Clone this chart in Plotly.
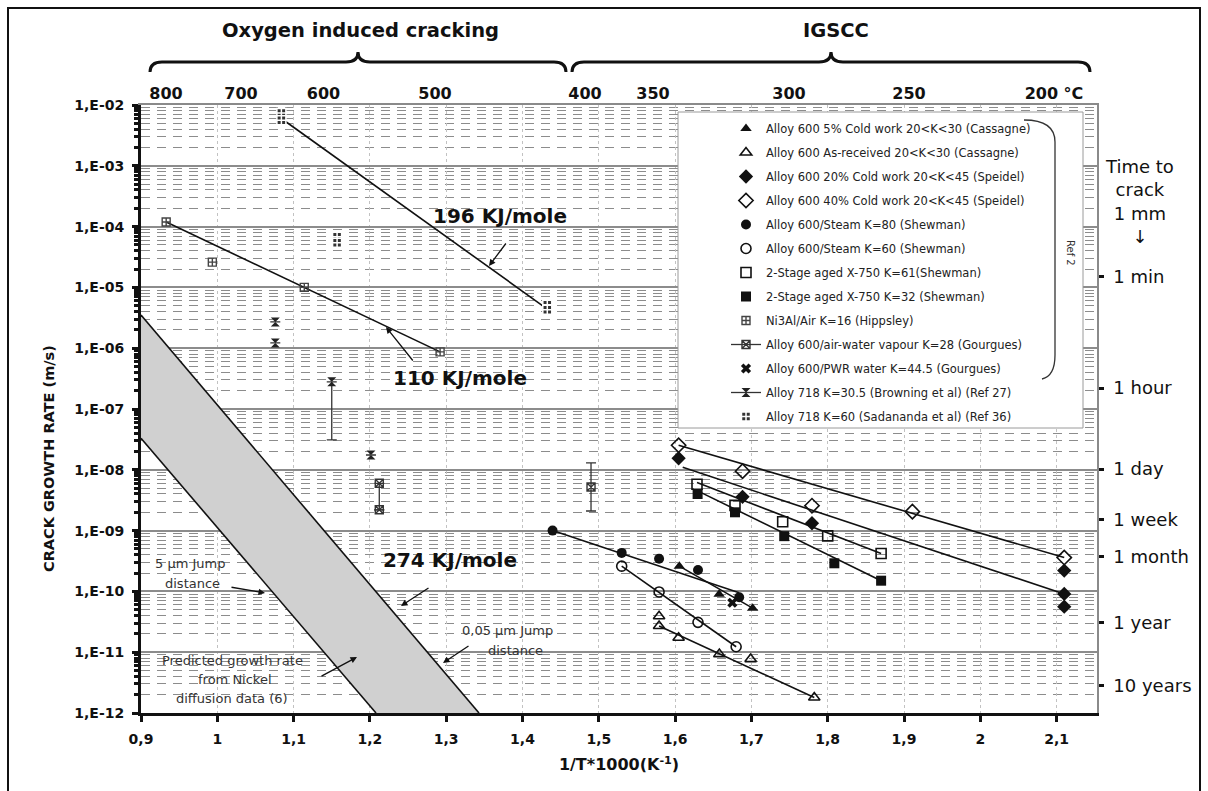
import plotly.graph_objects as go

# ---------------- data ----------------
# Alloy 600 5% cold work 20<K<30 (Cassagne)
cw5_x = [1.6055, 1.6577, 1.7016]
cw5_y = [2.6e-10, 9.0e-11, 5.3e-11]
# Alloy 600 as-received 20<K<30 (Cassagne)
asrec_x = [1.579, 1.579, 1.6046, 1.658, 1.699, 1.7824]
asrec_y = [3.9e-11, 2.7e-11, 1.73e-11, 9.3e-12, 7.7e-12, 1.8e-12]
# Alloy 600 20% cold work 20<K<45 (Speidel)
cw20_x = [1.6046, 1.6884, 1.7794, 2.110, 2.110, 2.110]
cw20_y = [1.55e-8, 3.6e-9, 1.32e-9, 2.2e-10, 9.1e-11, 5.6e-11]
# Alloy 600 40% cold work 20<K<45 (Speidel)
cw40_x = [1.6046, 1.6884, 1.7794, 1.911, 2.110]
cw40_y = [2.53e-8, 9.5e-9, 2.57e-9, 2.05e-9, 3.6e-10]
# Alloy 600/Steam K=80 (Shewman)
steam80_x = [1.4394, 1.530, 1.579, 1.630, 1.684]
steam80_y = [1.0e-9, 4.3e-10, 3.45e-10, 2.25e-10, 8.0e-11]
# Alloy 600/Steam K=60 (Shewman)
steam60_x = [1.530, 1.579, 1.630, 1.680]
steam60_y = [2.6e-10, 9.8e-11, 3.1e-11, 1.23e-11]
# 2-stage aged X-750 K=61 (Shewman)
x750_61_x = [1.6287, 1.6785, 1.741, 1.800, 1.870]
x750_61_y = [5.8e-9, 2.6e-9, 1.4e-9, 8.2e-10, 4.2e-10]
# 2-stage aged X-750 K=32 (Shewman)
x750_32_x = [1.6295, 1.6785, 1.743, 1.8087, 1.870]
x750_32_y = [4.0e-9, 2.0e-9, 8.1e-10, 2.9e-10, 1.5e-10]
# Ni3Al/Air K=16 (Hippsley)
ni3al_x = [0.933, 0.9935, 1.114, 1.292]
ni3al_y = [1.19e-4, 2.6e-5, 1.0e-5, 8.7e-7]
# Alloy 600/air-water vapour K=28 (Gourgues)
airw_x = [1.2123, 1.2123, 1.4898]
airw_y = [6.0e-9, 2.2e-9, 5.2e-9]
airw_err_plus = [0, 0, 7.8e-9]
airw_err_minus = [3.8e-9, 0, 3.1e-9]
# Alloy 600/PWR water K=44.5 (Gourgues)
pwr_x = [1.675]
pwr_y = [6.5e-11]
# Alloy 718 K=30.5 (Browning et al)
a718b_x = [1.076, 1.076, 1.150, 1.2014]
a718b_y = [2.7e-6, 1.22e-6, 2.8e-7, 1.75e-8]
a718b_err_minus = [0, 0, 2.49e-7, 0]
# Alloy 718 K=60 (Sadananda et al)
a718s_x = [1.084, 1.084, 1.157, 1.157, 1.4325, 1.4325]
a718s_y = [7.4e-3, 5.6e-3, 6.8e-5, 5.4e-5, 5.2e-6, 4.3e-6]

# Fitted trend lines (end points)
fit_196_x, fit_196_y = [1.084, 1.4325], [6.0e-3, 4.4e-6]
fit_110_x, fit_110_y = [0.933, 1.292], [1.19e-4, 8.7e-7]
fit_cw40_x, fit_cw40_y = [1.6046, 2.110], [2.53e-8, 3.6e-10]
fit_cw20_x, fit_cw20_y = [1.610, 2.110], [1.1e-8, 9.1e-11]
fit_x61_x, fit_x61_y = [1.6287, 1.870], [6.2e-9, 4.2e-10]
fit_x32_x, fit_x32_y = [1.6295, 1.870], [4.5e-9, 1.5e-10]
fit_s80_x, fit_s80_y = [1.4394, 1.684], [1.0e-9, 9.5e-11]
fit_s60_x, fit_s60_y = [1.530, 1.680], [2.6e-10, 1.23e-11]
fit_cw5_x, fit_cw5_y = [1.6055, 1.7016], [2.6e-10, 5.3e-11]
fit_asr_x, fit_asr_y = [1.579, 1.7824], [2.7e-11, 1.8e-12]

# Nickel diffusion band (274 kJ/mole): 0.05 um and 5 um jump distance
band_hi_x, band_hi_y = [0.9, 1.343], [3.5e-6, 1e-12]
band_lo_x, band_lo_y = [0.9, 1.208], [3.3e-8, 1e-12]

# Axes
y_decades = [1e-2, 1e-3, 1e-4, 1e-5, 1e-6, 1e-7, 1e-8, 1e-9, 1e-10, 1e-11, 1e-12]
y_labels = ["1,E-02", "1,E-03", "1,E-04", "1,E-05", "1,E-06", "1,E-07",
            "1,E-08", "1,E-09", "1,E-10", "1,E-11", "1,E-12"]
x_ticks = [0.9, 1.0, 1.1, 1.2, 1.3, 1.4, 1.5, 1.6, 1.7, 1.8, 1.9, 2.0, 2.1]
x_labels = ["0,9", "1", "1,1", "1,2", "1,3", "1,4", "1,5", "1,6", "1,7",
            "1,8", "1,9", "2", "2,1"]
# temperature scale (°C) on top, placed at 1000/T positions
temp_pos = [0.9328, 1.0311, 1.1392, 1.2853, 1.4819, 1.5710, 1.7493, 1.9066, 2.0966]
temp_labels = ["800", "700", "600", "500", "400", "350", "300", "250", "200 °C"]
# time to crack 1 mm, placed at the matching growth rate (m/s)
crack_rates = [1.5e-5, 2.2e-7, 1.03e-8, 1.52e-9, 3.7e-10, 3.1e-11, 2.8e-12]
crack_labels = ["1 min", "1 hour", "1 day", "1 week", "1 month", "1 year", "10 years"]
crack_rate_1s = 1e-3  # unlabelled tick (1 second)

legend_names = [
    "Alloy 600 5% Cold work 20<K<30 (Cassagne)",
    "Alloy 600 As-received 20<K<30 (Cassagne)",
    "Alloy 600 20% Cold work 20<K<45 (Speidel)",
    "Alloy 600 40% Cold work 20<K<45 (Speidel)",
    "Alloy 600/Steam K=80 (Shewman)",
    "Alloy 600/Steam K=60 (Shewman)",
    "2-Stage aged X-750 K=61(Shewman)",
    "2-Stage aged X-750 K=32 (Shewman)",
    "Ni3Al/Air K=16 (Hippsley)",
    "Alloy 600/air-water vapour K=28 (Gourgues)",
    "Alloy 600/PWR water K=44.5 (Gourgues)",
    "Alloy 718 K=30.5 (Browning et al) (Ref 27)",
    "Alloy 718 K=60 (Sadananda et al) (Ref 36)",
]

# ---------------- layout geometry ----------------
W, H = 1208, 791
L, R, T, B = 141, 111, 105, 78
PW, PH = W - L - R, H - T - B
X_PER_PX = 0.1 / 76.3
x_range = [0.9, 0.9 + PW * X_PER_PX]


def px(x):
    return (x - L) / PW


def py(y):
    return (H - B - y) / PH


BLK = "#111111"
FONT_V = "DejaVu Sans"

fig = go.Figure()

# diffusion band
fig.add_trace(go.Scatter(
    x=band_hi_x + band_lo_x[::-1], y=band_hi_y + band_lo_y[::-1],
    fill="toself", fillcolor="#d0d0d0", line=dict(width=0),
    mode="lines", hoverinfo="skip", showlegend=False))
for bx, by in ((band_hi_x, band_hi_y), (band_lo_x, band_lo_y)):
    fig.add_trace(go.Scatter(x=bx, y=by, mode="lines",
                             line=dict(color=BLK, width=1.6), showlegend=False))

# trend lines
for fx, fy in ((fit_196_x, fit_196_y), (fit_110_x, fit_110_y),
               (fit_cw40_x, fit_cw40_y), (fit_cw20_x, fit_cw20_y),
               (fit_x61_x, fit_x61_y), (fit_x32_x, fit_x32_y),
               (fit_s80_x, fit_s80_y), (fit_s60_x, fit_s60_y),
               (fit_cw5_x, fit_cw5_y), (fit_asr_x, fit_asr_y)):
    fig.add_trace(go.Scatter(x=fx, y=fy, mode="lines",
                             line=dict(color=BLK, width=1.6), showlegend=False))

# marker styles per series
styles = [
    dict(symbol="triangle-up", size=10, color=BLK, line=dict(width=0)),
    dict(symbol="triangle-up-open", size=10, color=BLK, line=dict(width=1.6, color=BLK)),
    dict(symbol="diamond", size=11, color=BLK, line=dict(width=0)),
    dict(symbol="diamond-open", size=11, color=BLK, line=dict(width=1.6, color=BLK)),
    dict(symbol="circle", size=10, color=BLK, line=dict(width=0)),
    dict(symbol="circle-open", size=10, color=BLK, line=dict(width=1.6, color=BLK)),
    dict(symbol="square-open", size=10, color=BLK, line=dict(width=1.6, color=BLK)),
    dict(symbol="square", size=10, color=BLK, line=dict(width=0)),
    dict(symbol="square-cross-open", size=8, color="#444", line=dict(width=1.4, color="#444")),
    dict(symbol="square-x-open", size=8, color="#333", line=dict(width=1.4, color="#333")),
    dict(symbol="x", size=9, color=BLK, line=dict(width=0)),
    dict(symbol="hourglass", size=9, color="#222", line=dict(width=0)),
    dict(symbol="square-cross", size=9, color="#333", line=dict(width=1.5, color="white")),
]

series = [
    (cw5_x, cw5_y, None, None), (asrec_x, asrec_y, None, None),
    (cw20_x, cw20_y, None, None), (cw40_x, cw40_y, None, None),
    (steam80_x, steam80_y, None, None), (steam60_x, steam60_y, None, None),
    (x750_61_x, x750_61_y, None, None), (x750_32_x, x750_32_y, None, None),
    (ni3al_x, ni3al_y, None, None),
    (airw_x, airw_y, airw_err_plus, airw_err_minus),
    (pwr_x, pwr_y, None, None),
    (a718b_x, a718b_y, [0] * len(a718b_x), a718b_err_minus),
    (a718s_x, a718s_y, None, None),
]

for i, (sx, sy, ep, em) in enumerate(series):
    err = None
    if ep is not None:
        err = dict(type="data", symmetric=False, array=ep, arrayminus=em,
                   color="#333", thickness=1.3, width=5)
    fig.add_trace(go.Scatter(x=sx, y=sy, mode="markers", marker=styles[i],
                             error_y=err, showlegend=False))

# legend-only entries
for i, name in enumerate(legend_names):
    with_line = i in (9, 11)
    fig.add_trace(go.Scatter(
        x=[None], y=[None], name=name,
        mode="lines+markers" if with_line else "markers",
        marker=styles[i], line=dict(color="#333", width=1.3),
        legendgroup=f"g{i}", legendrank=i + 1, showlegend=True))

# invisible traces carrying the secondary axes
fig.add_trace(go.Scatter(x=[1.5], y=[1e-5], xaxis="x2", yaxis="y", mode="markers",
                         marker=dict(opacity=0), showlegend=False, hoverinfo="skip"))
fig.add_trace(go.Scatter(x=[1.5], y=[1e-5], xaxis="x", yaxis="y2", mode="markers",
                         marker=dict(opacity=0), showlegend=False, hoverinfo="skip"))

minor_vals = [k * 10 ** e for e in range(-12, -2) for k in range(2, 10)]

fig.update_layout(
    width=W, height=H,
    margin=dict(l=L, r=R, t=T, b=B, pad=0),
    paper_bgcolor="white", plot_bgcolor="white",
    font=dict(family=FONT_V, color=BLK),
    xaxis=dict(
        range=x_range, tickvals=x_ticks, ticktext=x_labels,
        tickfont=dict(family=FONT_V, size=14, weight="bold", color=BLK),
        ticks="outside", ticklen=6, tickwidth=3, tickcolor=BLK,
        showline=True, linecolor=BLK, linewidth=3, mirror=False,
        showgrid=True, gridcolor="#c2c2c2", griddash="dot", gridwidth=1,
        zeroline=False, ticklabelstandoff=5,
        title=dict(text="1/T*1000(K<sup>-1</sup>)",
                   font=dict(family=FONT_V, size=16, weight="bold", color=BLK),
                   standoff=14),
    ),
    xaxis2=dict(
        overlaying="x", side="top", range=x_range,
        tickvals=temp_pos, ticktext=temp_labels,
        tickfont=dict(family=FONT_V, size=16, weight="bold", color=BLK),
        ticks="", showgrid=False, zeroline=False, showline=True,
        linecolor="#8a8a8a", linewidth=1.5, ticklabelstandoff=-2,
    ),
    yaxis=dict(
        type="log", range=[-12, -2], tickvals=y_decades, ticktext=y_labels,
        tickfont=dict(family=FONT_V, size=14, weight="bold", color=BLK),
        ticks="outside", ticklen=6, tickwidth=3, tickcolor=BLK,
        showline=True, linecolor=BLK, linewidth=3,
        showgrid=True, gridcolor="#8c8c8c", gridwidth=1.5,
        zeroline=False, ticklabelstandoff=5,
        minor=dict(tickvals=minor_vals, ticks="outside", ticklen=4,
                   tickwidth=3, tickcolor=BLK, showgrid=True,
                   gridcolor="#8c8c8c", gridwidth=1, griddash="9px,7px"),
    ),
    yaxis2=dict(
        type="log", range=[-12, -2], overlaying="y", side="right",
        tickvals=crack_rates, ticktext=crack_labels,
        tickfont=dict(family=FONT_V, size=18, color=BLK),
        ticks="outside", ticklen=5, tickwidth=3, tickcolor=BLK,
        showline=True, linecolor="#8a8a8a", linewidth=1.5,
        showgrid=False, zeroline=False, ticklabelstandoff=6,
    ),
    legend=dict(
        x=px(726), y=py(114), xanchor="left", yanchor="top",
        bgcolor="rgba(0,0,0,0)", borderwidth=0,
        font=dict(family=FONT_V, size=11.5, color="#222"),
        traceorder="grouped", tracegroupgap=5, itemwidth=30,
    ),
    showlegend=True,
)

shapes = []
# legend box (covers the grid)
shapes.append(dict(type="rect", xref="paper", yref="paper", layer="above",
                   x0=px(678), x1=px(1083), y0=py(428), y1=py(112),
                   fillcolor="white", line=dict(color="#9a9a9a", width=1)))
# "Ref 2" brace
shapes.append(dict(type="path", xref="paper", yref="paper", layer="above",
                   path=(f"M {px(1024)} {py(120)} Q {px(1055)} {py(120)} {px(1055)} {py(142)} "
                         f"L {px(1055)} {py(355)} Q {px(1055)} {py(376)} {px(1042)} {py(379)}"),
                   line=dict(color="#333", width=1.3)))
# unlabelled 1-second tick on the time scale
shapes.append(dict(type="line", xref="paper", yref="y", layer="above",
                   x0=1.0, x1=1.0 + 5 / PW, y0=-3, y1=-3,
                   line=dict(color=BLK, width=3)))


# top braces
def brace(x0, x1, ytop, ybot):
    xm = (x0 + x1) / 2
    ymid = ytop + 10
    return (f"M {px(x0)} {py(ybot)} Q {px(x0)} {py(ymid)} {px(x0 + 12)} {py(ymid)} "
            f"L {px(xm - 12)} {py(ymid)} Q {px(xm)} {py(ymid)} {px(xm)} {py(ytop)} "
            f"Q {px(xm)} {py(ymid)} {px(xm + 12)} {py(ymid)} "
            f"L {px(x1 - 12)} {py(ymid)} Q {px(x1)} {py(ymid)} {px(x1)} {py(ybot)}")


shapes.append(dict(type="path", xref="paper", yref="paper",
                   path=brace(150, 566, 52, 72), line=dict(color=BLK, width=3)))
shapes.append(dict(type="path", xref="paper", yref="paper",
                   path=brace(572, 1090, 52, 72), line=dict(color=BLK, width=3)))
# outer frame
shapes.append(dict(type="rect", xref="paper", yref="paper",
                   x0=px(8), x1=px(1200), y0=py(800), y1=py(8),
                   line=dict(color=BLK, width=2)))
fig.update_layout(shapes=shapes)

ann = []


def text(xp, yp, s, size=13, bold=False, color=BLK, angle=0):
    ann.append(dict(x=px(xp), y=py(yp), xref="paper", yref="paper", text=s,
                    showarrow=False, textangle=angle, align="center",
                    font=dict(family=FONT_V, size=size, color=color,
                              weight="bold" if bold else "normal"),
                    xanchor="center", yanchor="middle"))


def arrow(hx, hy, tx, ty):
    ann.append(dict(x=px(hx), y=py(hy), xref="paper", yref="paper", text="",
                    showarrow=True, ax=tx - hx, ay=ty - hy, arrowhead=2,
                    arrowsize=1, arrowwidth=1.3, arrowcolor=BLK))


text(360, 30, "Oxygen induced cracking", size=19.5, bold=True)
text(836, 30, "IGSCC", size=19.5, bold=True)
text(49, 459, "CRACK GROWTH RATE (m/s)", size=14.5, bold=True, angle=-90)
text(1139, 201, "Time to<br>crack<br>1 mm<br>↓", size=18)
text(1071, 253, "Ref 2", size=10, angle=90, color="#333")

text(500, 216, "196 KJ/mole", size=20, bold=True)
arrow(489, 266, 507, 242)
text(460, 378, "110 KJ/mole", size=20, bold=True)
arrow(386, 327, 414, 362)
text(450, 560, "274 KJ/mole", size=20, bold=True)
arrow(401, 606, 430, 587)

text(190, 563, "5 µm Jump", size=13, color="#333")
text(192, 583, "distance", size=13, color="#333")
arrow(265, 593, 230, 587)
text(507, 630, "0,05 µm Jump", size=13, color="#333")
text(515, 650, "distance", size=13, color="#333")
arrow(443, 663, 470, 645)
text(232, 660, "Predicted growth rate", size=13, color="#333")
text(235, 679, "from Nickel", size=13, color="#333")
text(232, 698, "diffusion data (6)", size=13, color="#333")
arrow(357, 657, 320, 677)

fig.update_layout(annotations=ann)

fig.write_html("out.html")
